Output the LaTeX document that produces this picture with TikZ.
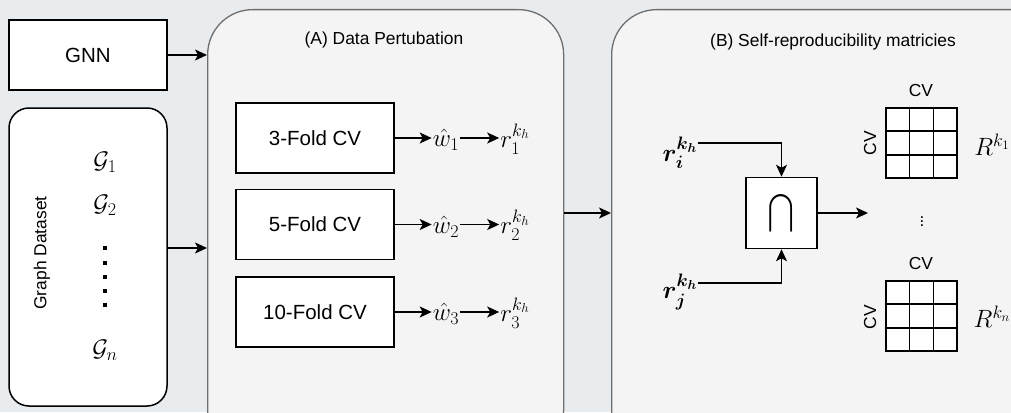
\RequirePackage{fix-cm}
\documentclass[tikz,border=0pt]{standalone}
\usepackage{amsmath}
\usepackage{graphicx}
\usepackage{fontspec}
\setmainfont{Liberation Sans}
\usetikzlibrary{arrows.meta,calc}
\DeclareMathSizes{25}{25}{18}{13}
\DeclareMathSizes{24}{24}{18}{13}
\definecolor{bgc}{HTML}{E9ECEE}
\definecolor{panelc}{HTML}{F4F4F4}
\definecolor{panelborder}{HTML}{6E6E6E}
\tikzset{
 box/.style={draw=black, fill=white, line width=1.5pt, minimum width=158pt, minimum height=70pt, font=\fontsize{20.5}{24}\selectfont, inner sep=0pt},
 panel/.style={draw=panelborder, fill=panelc, line width=1.3pt, rounded corners=45pt, inner sep=0pt, anchor=north west},
 arr/.style={line width=1.5pt, -{Stealth[length=12pt,width=11pt,inset=3pt]}},
 ttl/.style={font=\fontsize{17.4}{20}\selectfont, inner sep=0pt},
 mth/.style={font=\fontsize{25}{29}\selectfont, inner sep=1pt},
 gmth/.style={font=\fontsize{24}{28}\selectfont, inner sep=1pt},
 grid/.style={draw=black, fill=white, line width=1.5pt, minimum width=71pt, minimum height=70pt, inner sep=0pt},
}
\begin{document}
\begin{tikzpicture}[x=1pt,y=-1pt]
\useasboundingbox (0,0) rectangle (1011,412);
\fill[bgc] (0,0) rectangle (1011,412);
\begin{scope}
\clip (0,0) rectangle (1011,412);
\node[panel, minimum width=356pt, minimum height=445pt] (pA) at (207,9) {};
\node[panel, minimum width=450pt, minimum height=445pt] (pB) at (611,9) {};
\end{scope}
% left column
\node[box] (gnn) at (88,55) {GNN};
\node[draw=black, fill=white, line width=1.5pt, rounded corners=20pt, minimum width=158pt, minimum height=298pt, inner sep=0pt] (ds) at (88,257) {};
\node[ttl, rotate=90] (dsl) at (42,253) {Graph Dataset};
\node[gmth] (g1) at (105,162) {$\mathcal{G}_1$};
\node[gmth] (g2) at (105,205) {$\mathcal{G}_2$};
\node[gmth] (gn) at (105,350) {$\mathcal{G}_n$};
\foreach \yy in {248,263,277,291,305} \fill (103,\yy-2) rectangle (107,\yy+2);
\coordinate (ydA) at (0,248);
\draw[arr] (gnn.east) -- (gnn.east -| pA.west);
\draw[arr] (ds.east |- ydA) -- (pA.west |- ydA);
% panel A
\node[ttl] (tA) at (384,40) {(A) Data Pertubation};
\node[box] (cv3) at (315,138) {3-Fold CV};
\node[box] (cv5) at (315,224.5) {5-Fold CV};
\node[box] (cv10) at (315,312) {10-Fold CV};
\node[mth] (w1) at (446,140) {$\hat{w}_1$};
\node[mth] (w2) at (446,226.5) {$\hat{w}_2$};
\node[mth] (w3) at (446,314) {$\hat{w}_3$};
\node[mth] (r1) at (515,139) {$r_1^{k_h}$};
\node[mth] (r2) at (515,225.5) {$r_2^{k_h}$};
\node[mth] (r3) at (515,313) {$r_3^{k_h}$};
\draw[arr] (cv3.east) -- (cv3.east -| w1.west);
\draw[arr] (cv5.east) -- (cv5.east -| w2.west);
\draw[arr] (cv10.east) -- (cv10.east -| w3.west);
\draw[arr] (cv3.east -| w1.east) -- (cv3.east -| r1.west);
\draw[arr] (cv5.east -| w2.east) -- (cv5.east -| r2.west);
\draw[arr] (cv10.east -| w3.east) -- (cv10.east -| r3.west);
\coordinate (yAB) at (0,213);
\draw[arr] (pA.east |- yAB) -- (pB.west |- yAB);
% panel B
\node[ttl] (tB) at (833,42) {(B) Self-reproducibility matricies};
\node[draw=black, fill=white, line width=1.5pt, minimum size=71pt, inner sep=0pt, font=\fontsize{22}{26}\selectfont] (cap) at (781.5,213) {\scalebox{1.1}[1.3]{$\displaystyle\bigcap$}};
\node[mth] (ri) at (680,153) {$\boldsymbol{r_i^{k_h}}$};
\node[mth] (rj) at (680,292) {$\boldsymbol{r_j^{k_h}}$};
\coordinate (yi) at (0,143);
\coordinate (yj) at (0,283);
\draw[arr] (ri.east |- yi) -| (cap.north);
\draw[arr] (rj.east |- yj) -| (cap.south);
\coordinate (capout) at (868,213);
\draw[arr] (cap.east) -- (capout);
\node[font=\fontsize{17}{20}\selectfont, inner sep=0pt] (vd) at (922,219) {$\vdots$};
% matrices
\node[grid] (m1) at (921.5,143) {};
\node[grid] (m2) at (921.5,316) {};
\foreach \m in {m1,m2} {
  \foreach \f in {1/3,2/3} {
    \draw[line width=1.5pt] ($(\m.north west)!\f!(\m.north east)$) -- ($(\m.south west)!\f!(\m.south east)$);
    \draw[line width=1.5pt] ($(\m.north west)!\f!(\m.south west)$) -- ($(\m.north east)!\f!(\m.south east)$);
  }
}
\node[ttl] (c1t) at (921,91) {CV};
\node[ttl, rotate=90] (c1l) at (870,143) {CV};
\node[ttl] (c2t) at (921,264) {CV};
\node[ttl, rotate=90] (c2l) at (870,317) {CV};
\node[mth] (R1) at (992,145) {$R^{k_1}$};
\node[mth] (R2) at (992,317) {$R^{k_n}$};
\end{tikzpicture}
\end{document}
